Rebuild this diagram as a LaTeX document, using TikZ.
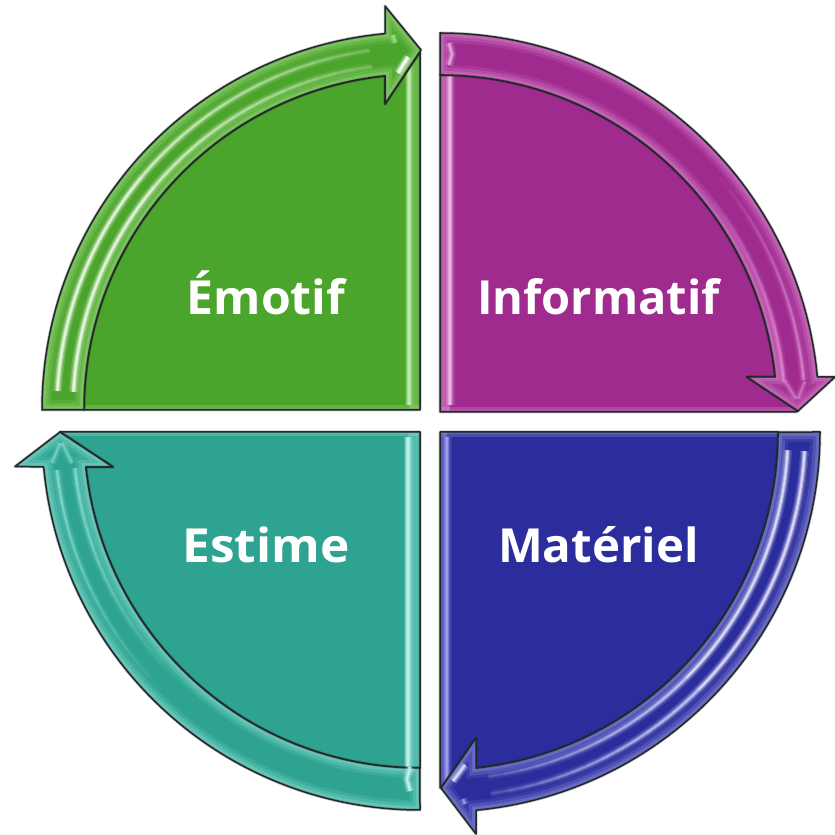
\documentclass[tikz,border=0pt]{standalone}
\usepackage{fontspec}
\setmainfont{Open Sans}
\definecolor{greenB}{HTML}{4BA42B}\definecolor{greenL}{HTML}{A9E58F}
\definecolor{purpB}{HTML}{A02B8F}\definecolor{purpL}{HTML}{E89ADD}
\definecolor{blueB}{HTML}{2B2D9C}\definecolor{blueL}{HTML}{A4A6F0}
\definecolor{tealB}{HTML}{2EA391}\definecolor{tealL}{HTML}{9BEBDF}
\definecolor{edge}{HTML}{22282A}
% outline with a slight blur
\newcommand{\outl}[1]{%
  \draw[edge,line width=3pt,opacity=.25,line join=round] #1;
  \draw[edge,line width=1.5pt,line join=round] #1;
}
% arrow shape: flat fill, soft inner glow along every edge
\newcommand{\glossy}[3]{%
  \fill[#2] #1;
  \begin{scope}
    \clip #1;
    \draw[#3,line width=20pt,opacity=.13] #1;
    \draw[#3,line width=14pt,opacity=.2] #1;
    \draw[#3,line width=8pt,opacity=.25] #1;
    \draw[#3,line width=4pt,opacity=.25] #1;
  \end{scope}
  \outl{#1}
}
\newcommand{\softline}[3]{%
  \draw[#2,line width=9pt,opacity=.14*#3] #1;
  \draw[#2,line width=6pt,opacity=.25*#3] #1;
  \draw[#2,line width=3.5pt,opacity=.45*#3] #1;
  \draw[#2,line width=1.8pt,opacity=.7*#3] #1;
}
% fading ridge along an arc: centre / radius / from / to / colour / strength at start / strength at end
\newcommand{\ridge}[7]{%
  \foreach \i in {0,...,13}{%
    \pgfmathsetmacro\aa{#3+(#4-(#3))*\i/14}%
    \pgfmathsetmacro\bb{#3+(#4-(#3))*(\i+1)/14}%
    \pgfmathsetmacro\st{#6+(#7-(#6))*\i/13}%
    \softline{(#1) ++(\aa:#2) arc[start angle=\aa,end angle=\bb,radius=#2]}{#5}{\st}
  }%
}
\tikzset{lbl/.style={text=white,font=\bfseries\fontsize{47}{47}\selectfont,inner sep=0pt,anchor=base}}
\begin{document}
\begin{tikzpicture}[x=1pt,y=1pt]
\useasboundingbox (0,0) rectangle (835,835);
\coordinate (cg) at (420,425);
\coordinate (cp) at (440,423);
\coordinate (cb) at (440,403);
\coordinate (ct) at (420,403);
% ---- green
\def\pb{(84,425) arc[start angle=180,end angle=95.98,radius=336] -- (385,731) -- (420,783) -- (420,425) -- cycle}
\fill[greenB] \pb;
\begin{scope}\clip \pb;
  \draw[greenL,line width=9pt,opacity=.25] (84,425) -- (420,425);
  \draw[greenL,line width=4pt,opacity=.35] (84,425) -- (420,425);
  \fill[greenL,opacity=.3] (409,425) rectangle (420,790);
  \softline{(409,790) -- (409,430)}{white!30!greenL}{1.3}
\end{scope}
\outl{\pb}
\glossy{(42,425) arc[start angle=180,end angle=95.3,radius=378] -- (385,829) -- (421,785) -- (385,731) -- (385,759.2) arc[start angle=95.98,end angle=180,radius=336] -- cycle}{greenB}{greenL}
\ridge{cg}{363}{177}{140}{white!75!greenL}{1.3}{1.1}
\ridge{cg}{347}{177}{140}{white!75!greenL}{1.3}{1.1}
\ridge{cg}{363}{140}{98}{white!50!greenL}{1.1}{.25}
\ridge{cg}{347}{140}{98}{white!50!greenL}{1.1}{.25}
\softline{(398,762) -- (408,778)}{white}{1.3}
\softline{(393,800) -- (395,792)}{greenL}{.9}
% ---- purple
\def\pb{(440,760) arc[start angle=90,end angle=5.96,radius=337] -- (747,458) -- (798,424) -- (796,423) -- (440,423) -- cycle}
\fill[purpB] \pb;
\begin{scope}\clip \pb;
  \draw[purpL,line width=9pt,opacity=.25] (440,423) -- (800,423);
  \draw[purpL,line width=4pt,opacity=.35] (440,423) -- (800,423);
  \fill[purpL,opacity=.45] (440,423) rectangle (450,765);
  \softline{(450,765) -- (450,430)}{white!30!purpL}{1.2}
\end{scope}
\outl{\pb}
\glossy{(440,802) arc[start angle=90,end angle=5.3,radius=379] -- (835,458) -- (798,424) -- (747,458) -- (775.2,458) arc[start angle=5.96,end angle=90,radius=337] -- cycle}{purpB}{purpL}
\ridge{cp}{345}{40}{5}{purpL}{.05}{.7}
\ridge{cp}{365}{40}{5}{purpL}{.05}{.7}
\softline{(785,454) -- (796,436)}{purpL}{.5}
\softline{(805,454) -- (798,436)}{purpL}{.5}
\softline{(449,792) -- (452,781) -- (449,770)}{white!30!purpL}{.9}
% ---- blue
\def\pb{(778,403) arc[start angle=0,end angle=-83.89,radius=338] -- (476,97) -- (441,47) -- (440,47) -- (440,403) -- cycle}
\fill[blueB] \pb;
\begin{scope}\clip \pb;
  \draw[blueL,line width=10pt,opacity=.25] (440,403) -- (780,403);
  \draw[blueL,line width=5pt,opacity=.35] (440,403) -- (780,403);
  \fill[blueL,opacity=.4] (440,403) rectangle (447,40);
  \softline{(447,398) -- (447,50)}{blueL}{1}
\end{scope}
\outl{\pb}
\glossy{(820,403) arc[start angle=0,end angle=-84.56,radius=380] -- (476,1) -- (441,47) -- (476,97) -- (476,66.9) arc[start angle=-83.89,end angle=0,radius=338] -- cycle}{blueB}{blueL}
\ridge{cb}{365}{-3}{-45}{white!70!blueL}{1.15}{1.1}
\ridge{cb}{348}{-3}{-45}{white!70!blueL}{1.15}{1.1}
\ridge{cb}{365}{-45}{-82}{white!40!blueL}{1.1}{.2}
\ridge{cb}{348}{-45}{-82}{white!40!blueL}{1.1}{.2}
\softline{(453,54) -- (465,70)}{white!70!blueL}{1.1}
\softline{(463,36) -- (465,31)}{blueL}{.9}
% ---- teal
\def\pb{(420,67) arc[start angle=270,end angle=185.98,radius=336] -- (113,368) -- (60,403) -- (420,403) -- cycle}
\fill[tealB] \pb;
\begin{scope}\clip \pb;
  \draw[tealL,line width=9pt,opacity=.25] (60,403) -- (420,403);
  \draw[tealL,line width=4pt,opacity=.35] (60,403) -- (420,403);
  \fill[tealL,opacity=.35] (408,403) rectangle (420,60);
  \softline{(408,398) -- (408,60)}{white!30!tealL}{1.5}
\end{scope}
\outl{\pb}
\glossy{(420,25) arc[start angle=270,end angle=185.31,radius=378] -- (15,368.5) -- (60,403) -- (113,368) -- (85.8,368) arc[start angle=185.98,end angle=270,radius=336] -- cycle}{tealB}{tealL}
\ridge{ct}{365}{186}{225}{tealL}{.7}{.05}
\ridge{ct}{347}{186}{225}{tealL}{.7}{.05}
\softline{(52,372) -- (60,392)}{tealL}{.5}
\softline{(72,372) -- (62,392)}{tealL}{.5}
\softline{(410,68) -- (407,56) -- (410,44)}{white!40!tealL}{1.3}
% ---- labels
\node[lbl] (emotif) at (266,520) {\scalebox{1.026}[1]{Émotif}};
\node[lbl] (informatif) at (598.5,520) {Informatif};
\node[lbl] (estime) at (266,272) {\scalebox{1.055}[1]{Estime}};
\node[lbl] (materiel) at (598.5,272) {\scalebox{1.01}[1]{Matériel}};
\end{tikzpicture}
\end{document}
